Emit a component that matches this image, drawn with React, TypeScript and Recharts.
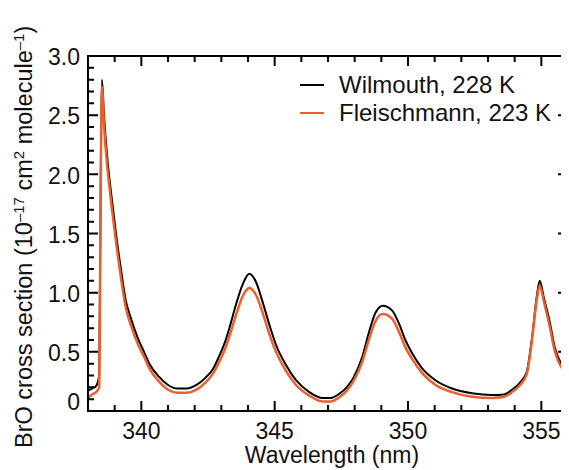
import React from 'react';
import { LineChart, Line, XAxis, YAxis } from 'recharts';

// wavelength grid (nm)
const wavelength = [
  338.0, 338.15, 338.3, 338.42, 338.46, 338.52, 338.6, 338.7, 338.8, 338.9,
  339.05, 339.24, 339.42, 339.6, 339.86, 340.1, 340.3, 340.66, 341.0, 341.35,
  341.7, 342.07, 342.4, 342.7, 342.93, 343.15, 343.3, 343.55, 343.8, 344.05,
  344.3, 344.55, 344.8, 345.05, 345.42, 345.8, 346.3, 346.8, 347.1, 347.45,
  347.7, 347.95, 348.29, 348.53, 348.78, 349.05, 349.4, 349.66, 349.9, 350.15,
  350.53, 351.03, 351.65, 352.4, 353.14, 353.6, 353.9, 354.2, 354.45, 354.64,
  354.83, 354.94, 355.1, 355.3, 355.5, 355.83, 356.0,
];

// Wilmouth, 228 K
const wilmouth = [
  0.17, 0.19, 0.21, 0.3, 1.4, 2.8, 2.5, 2.2, 1.97, 1.78,
  1.5, 1.19, 0.93, 0.79, 0.62, 0.5, 0.4, 0.29, 0.22, 0.19,
  0.19, 0.22, 0.28, 0.36, 0.47, 0.59, 0.7, 0.9, 1.07, 1.16,
  1.09, 0.92, 0.73, 0.56, 0.39, 0.26, 0.16, 0.11, 0.11, 0.15,
  0.2, 0.28, 0.46, 0.66, 0.83, 0.89, 0.85, 0.74, 0.6, 0.49,
  0.36, 0.26, 0.19, 0.15, 0.135, 0.14, 0.18, 0.24, 0.33, 0.6,
  0.97, 1.1, 0.95, 0.77, 0.54, 0.37, 0.33,
];

// Fleischmann, 223 K
const fleischmann = [
  0.11, 0.14, 0.16, 0.2, 1.4, 2.74, 2.42, 2.12, 1.9, 1.7,
  1.43, 1.12, 0.87, 0.73, 0.57, 0.46, 0.36, 0.25, 0.18, 0.155,
  0.155, 0.18, 0.24, 0.32, 0.42, 0.53, 0.63, 0.81, 0.97, 1.04,
  0.98, 0.83, 0.65, 0.5, 0.34, 0.22, 0.13, 0.08, 0.08, 0.12,
  0.17, 0.25, 0.42, 0.6, 0.76, 0.82, 0.78, 0.67, 0.54, 0.44,
  0.32, 0.22, 0.16, 0.12, 0.11, 0.12, 0.16, 0.22, 0.31, 0.58,
  0.94, 1.06, 0.92, 0.73, 0.51, 0.34, 0.3,
];

const xMajor = [340, 345, 350, 355];
const yMajor = [0, 0.5, 1.0, 1.5, 2.0, 2.5, 3.0];
const yLabels = ['0', '0.5', '1.0', '1.5', '2.0', '2.5', '3.0'];

const xTicks = Array.from({ length: 19 }, (_, i) => 338 + i);
const yTicks = Array.from({ length: 31 }, (_, i) => i / 10);

const data = wavelength.map((w, i) => ({
  w,
  wilmouth: wilmouth[i],
  fleischmann: fleischmann[i],
}));

const FONT = '"Liberation Sans", Arial, Helvetica, sans-serif';
const ORANGE = '#E8602C';
const TICK_FS = 23;

// plot box (chart coords), same as the chart margins / axis sizes below
const PLOT_L = 80;
const PLOT_T = 48;
const PLOT_W = 480;
const PLOT_H = 355;
const OFF = 8; // default tickSize 6 + tickMargin 2

const isMajorY = (v: number) => yMajor.some(m => Math.abs(m - v) < 1e-6);

const LeftTick = (props: any) => {
  const { x, y, payload } = props;
  const v = payload.value;
  if (!isMajorY(v)) return <g />;
  const idx = yMajor.findIndex(m => Math.abs(m - v) < 1e-6);
  return (
    <text x={x + OFF - 8} y={v === 0 ? y - 9 : y + 1} dy="0.36em" textAnchor="end" fontSize={TICK_FS} fontFamily={FONT} fill="#111">
      {yLabels[idx]}
    </text>
  );
};

const BottomTick = (props: any) => {
  const { x, y, payload } = props;
  const v = payload.value;
  if (!xMajor.includes(v)) return <g />;
  return (
    <text x={x} y={y - OFF + 20} dy="0.36em" textAnchor="middle" fontSize={TICK_FS} fontFamily={FONT} fill="#111">
      {v}
    </text>
  );
};

// inward tick marks on all four sides plus the box
const Frame = () => {
  const px = (v: number) => PLOT_L + ((v - 338) / 18) * PLOT_W;
  const py = (v: number) => PLOT_T + ((3 - v) / 3) * PLOT_H;
  let d = '';
  xTicks.forEach(v => {
    const len = xMajor.includes(v) ? 10 : 6;
    d += `M${px(v)},${PLOT_T + PLOT_H}v${-len}M${px(v)},${PLOT_T}v${len}`;
  });
  yTicks.forEach(v => {
    const len = isMajorY(v) ? 10 : 6;
    d += `M${PLOT_L},${py(v)}h${len}M${PLOT_L + PLOT_W},${py(v)}h${-len}`;
  });
  return (
    <svg width={561} height={462} style={{ position: 'absolute', left: 0, top: 0, pointerEvents: 'none' }}>
      <rect x={PLOT_L} y={PLOT_T} width={PLOT_W} height={PLOT_H} fill="none" stroke="#000" strokeWidth={2} />
      <path d={d} stroke="#000" strokeWidth={2} fill="none" />
    </svg>
  );
};

const YTitle = () => (
  <text transform="translate(24, 440) rotate(-90)" fontSize={23.5} fontFamily={FONT} fill="#111">
    BrO cross section (10
    <tspan dy={-8} fontSize={15}>–17</tspan>
    <tspan dy={8}> cm</tspan>
    <tspan dy={-8} fontSize={15}>2</tspan>
    <tspan dy={8}> molecule</tspan>
    <tspan dy={-8} fontSize={15}>–1</tspan>
    <tspan dy={8}>)</tspan>
  </text>
);

const XTitle = () => (
  <text x={324} y={455} textAnchor="middle" fontSize={23} fontFamily={FONT} fill="#111">
    Wavelength (nm)
  </text>
);

export default function App() {
  return (
    <div style={{ position: 'relative', width: 561, height: 462, fontFamily: FONT }}>
      <LineChart width={561} height={462} data={data} margin={{ top: PLOT_T, right: 1, bottom: 0, left: 0 }}>
        <XAxis
          dataKey="w"
          type="number"
          domain={[338, 356]}
          ticks={xTicks}
          interval={0}
          height={59}
          axisLine={false}
          tickLine={false}
          tick={<BottomTick />}
          label={<XTitle />}
        />
        <YAxis
          type="number"
          domain={[0, 3]}
          ticks={yTicks}
          interval={0}
          width={PLOT_L}
          axisLine={false}
          tickLine={false}
          tick={<LeftTick />}
          label={<YTitle />}
        />
        <Line type="monotone" dataKey="wilmouth" stroke="#000" strokeWidth={2} dot={false} isAnimationActive={false} />
        <Line type="monotone" dataKey="fleischmann" stroke={ORANGE} strokeWidth={2.5} dot={false} isAnimationActive={false} />
      </LineChart>
      <Frame />
      <div
        style={{
          position: 'absolute',
          top: 63,
          left: 292,
          fontSize: 24,
          lineHeight: '28px',
          color: '#111',
          whiteSpace: 'nowrap',
        }}
      >
        <div style={{ display: 'flex', alignItems: 'center' }}>
          <span style={{ display: 'inline-block', width: 24, height: 2, background: '#000', marginRight: 15 }} />
          Wilmouth, 228 K
        </div>
        <div style={{ display: 'flex', alignItems: 'center' }}>
          <span style={{ display: 'inline-block', width: 24, height: 2, background: ORANGE, marginRight: 15 }} />
          Fleischmann, 223 K
        </div>
      </div>
    </div>
  );
}
